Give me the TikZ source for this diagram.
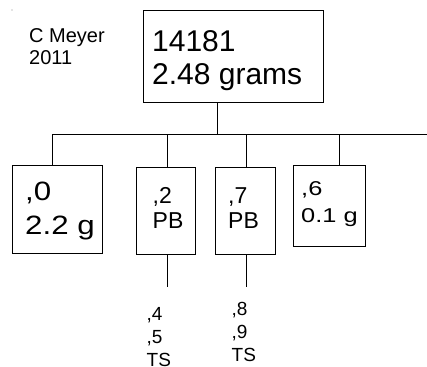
\documentclass[tikz,border=0pt]{standalone}
\usepackage{fontspec}
\setmainfont{Liberation Sans}
\newfontfamily\anchauno[FakeStretch=1.18]{Liberation Sans}
\newfontfamily\anchados[FakeStretch=1.27]{Liberation Sans}
\usetikzlibrary{positioning}
\tikzset{
  caja/.style={draw=black,line width=0.9pt,inner sep=0pt,fill=white},
  texto/.style={anchor=base west,align=left,inner sep=0pt},
  linea/.style={draw=black,line width=0.9pt},
}
\begin{document}
\begin{tikzpicture}[x=1pt,y=-1pt]
  \useasboundingbox (0,0) rectangle (427,366);
  \fill[black!45] (12,10) circle (0.6);
  \node[texto,font=\fontsize{20}{22}\selectfont] (autor) at (29,65) {C Meyer\\2011};
  % raiz y cajas
  \node[caja,minimum width=180,minimum height=92] (raiz) at (233,56) {};
  \node[caja,minimum width=90,minimum height=88] (caja0) at (57,209) {};
  \node[caja,minimum width=59,minimum height=87] (caja2) at (165.5,210.5) {};
  \node[caja,minimum width=60,minimum height=87] (caja7) at (245,210.5) {};
  \node[caja,minimum width=72,minimum height=81] (caja6) at (329,205.5) {};
  \node[texto,font=\fontsize{30}{33}\selectfont] (traiz) at (152,85) {14181\\2.48 grams};
  \node[texto,font=\anchauno\fontsize{26.5}{34}\selectfont] (t0) at (25,234) {,0\\2.2 g};
  \node[texto,font=\fontsize{23}{25}\selectfont] (t2) at (152.5,228) {,2\\PB};
  \node[texto,font=\fontsize{23}{25}\selectfont] (t7) at (228,228) {,7\\PB};
  \node[texto,font=\anchados\fontsize{20}{27}\selectfont] (t6) at (301,222) {,6\\0.1 g};
  \node[texto,font=\fontsize{19}{23}\selectfont] (t45) at (146.5,366) {,4\\,5\\TS};
  \node[texto,font=\fontsize{19}{23}\selectfont] (t89) at (231.5,361) {,8\\,9\\TS};
  % conectores
  \coordinate (tronco) at (217,134);
  \coordinate (barraI) at (52,134);
  \coordinate (barraD) at (427,134);
  \draw[linea] (tronco |- raiz.south) -- (tronco);
  \draw[linea] (barraI) -- (barraD);
  \foreach \c/\x in {caja0/52,caja2/167,caja7/246,caja6/339}{
    \coordinate (d\c) at (\x,134);
    \draw[linea] (d\c) -- (d\c |- \c.north);
  }
  \coordinate (pie2) at (167,287);
  \coordinate (pie7) at (246,287);
  \draw[linea] (pie2 |- caja2.south) -- (pie2);
  \draw[linea] (pie7 |- caja7.south) -- (pie7);
\end{tikzpicture}
\end{document}
